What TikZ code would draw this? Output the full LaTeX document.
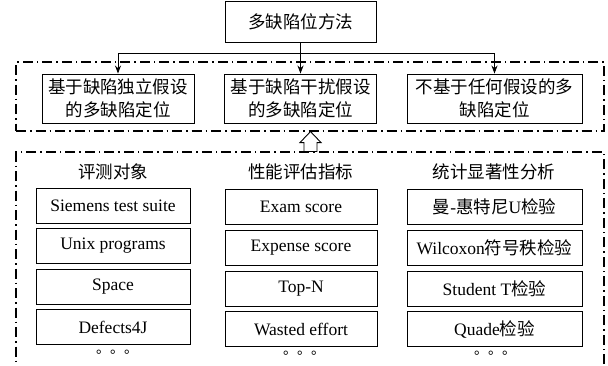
\documentclass[tikz,border=0pt]{standalone}
\usepackage{fontspec}
\setmainfont{Liberation Serif}
\newfontfamily\cjk{Noto Sans CJK SC}
\usetikzlibrary{arrows.meta}
\begin{document}
\begin{tikzpicture}[x=1pt,y=-1pt,
  box/.style={draw, line width=0.9pt, inner sep=0pt, align=center,
    font=\fontsize{17.5}{23}\selectfont},
  frame/.style={draw, line width=1.1pt, inner sep=0pt,
    dash pattern=on 10pt off 4pt on 1.5pt off 4pt},
  hdr/.style={font=\fontsize{17.5}{21}\selectfont\cjk, inner sep=0pt},
  dots/.style={font=\fontsize{14}{14}\selectfont\cjk, inner sep=0pt},
  arr/.style={-{Stealth[length=8pt,width=6pt]}, line width=0.9pt}]
\clip (0,0) rectangle (608,365);
\fill[white] (0,0) rectangle (608,365);
% frames
\node[frame, minimum width=588pt, minimum height=69pt] (U) at (310,96.5) {};
\node[frame, minimum width=588pt, minimum height=248pt] (L) at (310,276) {};
% top
\node[box, minimum width=151pt, minimum height=41pt] (T) at (300.5,21.5) {\cjk 多缺陷位方法};
\node[box, minimum width=152pt, minimum height=49pt] (B1) at (118,98.5) {\cjk 基于缺陷独立假设\\\cjk 的多缺陷定位};
\node[box, minimum width=152pt, minimum height=49pt] (B2) at (300.5,98.5) {\cjk 基于缺陷干扰假设\\\cjk 的多缺陷定位};
\node[box, minimum width=175pt, minimum height=49pt] (B3) at (494.5,98.5) {\cjk 不基于任何假设的多\\\cjk 缺陷定位};
\coordinate (J) at (300.5,53);
\draw[arr] (T.south) -- (B2.north);
\draw[line width=0.9pt] (B1.north |- J) -- (B3.north |- J);
\draw[arr] (B1.north |- J) -- (B1.north);
\draw[arr] (B3.north |- J) -- (B3.north);
% hollow arrow between the two frames
\coordinate (tip) at ([xshift=0.5pt]U.south);
\coordinate (base) at ([xshift=0.5pt]L.north);
\draw[line width=0.9pt, fill=white]
  (tip) -- ([xshift=10.5pt,yshift=-11pt]tip) -- ([xshift=6.5pt,yshift=-11pt]tip)
  -- ([xshift=6.5pt]base) -- ([xshift=-6.5pt]base) -- ([xshift=-6.5pt,yshift=-11pt]tip)
  -- ([xshift=-10.5pt,yshift=-11pt]tip) -- cycle;
% headers
\node[hdr] (H1) at (113,172) {评测对象};
\node[hdr] (H2) at (300.5,172) {性能评估指标};
\node[hdr] (H3) at (494,172) {统计显著性分析};
% column 1
\node[box, minimum width=154pt, minimum height=35pt] (A1) at (113,205.5) {Siemens test suite};
\node[box, minimum width=154pt, minimum height=35pt] (A2) at (113,246) {Unix programs};
\node[box, minimum width=154pt, minimum height=35pt] (A3) at (113,287) {Space};
\node[box, minimum width=154pt, minimum height=35pt] (A4) at (113,327) {Defects4J};
% column 2
\node[box, minimum width=152pt, minimum height=35pt] (C1) at (301,207) {Exam score};
\node[box, minimum width=152pt, minimum height=35pt] (C2) at (301,248) {Expense score};
\node[box, minimum width=152pt, minimum height=35pt] (C3) at (301,288.5) {Top-N};
\node[box, minimum width=152pt, minimum height=35pt] (C4) at (301,329) {Wasted effort};
% column 3
\node[box, minimum width=175pt, minimum height=35pt] (D1) at (494.5,207) {{\cjk 曼}-{\cjk 惠特尼}U{\cjk 检验}};
\node[box, minimum width=175pt, minimum height=35pt] (D2) at (494.5,248) {Wilcoxon{\cjk 符号秩检验}};
\node[box, minimum width=175pt, minimum height=35pt] (D3) at (494.5,288.5) {Student T{\cjk 检验}};
\node[box, minimum width=175pt, minimum height=35pt] (D4) at (494.5,329) {Quade{\cjk 检验}};
% dots
\node[dots] (E1) at (117,352) {。。。};
\node[dots] (E2) at (304,353) {。。。};
\node[dots] (E3) at (495,353) {。。。};
\end{tikzpicture}
\end{document}
